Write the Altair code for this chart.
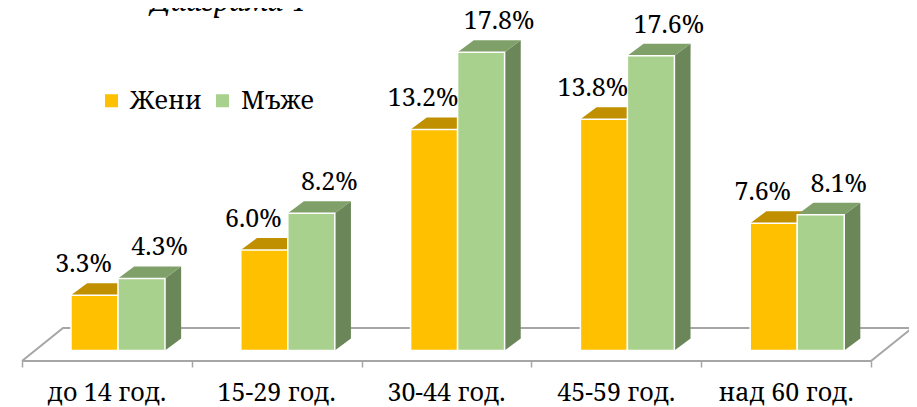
import altair as alt
import pandas as pd

# ---- data ----
categories = ["до 14 год.", "15-29 год.", "30-44 год.", "45-59 год.", "над 60 год."]
series = ["Жени", "Мъже"]
women = [3.3, 6.0, 13.2, 13.8, 7.6]
men = [4.3, 8.2, 17.8, 17.6, 8.1]
title_text = "Диаграма 4"

# ---- layout / style constants (data units of the scales) ----
X_DOMAIN = [-0.0824, 5.2238]
Y_DOMAIN = [-3.373, 20.448]
BAR_START = 0.2886
BAR_W = 0.2768
DEPTH_X = 0.095
DEPTH_Y = 0.716
FLOOR_FRONT = -0.627
FLOOR_BACK = 1.343
FLOOR_DX = 0.2415
FONT = "Noto Serif, DejaVu Serif, serif"
FS = 25
FRONT = {"Жени": "#FFC000", "Мъже": "#A9D18E"}
TOP = {"Жени": "#C09000", "Мъже": "#80A06A"}
SIDE = {"Жени": "#C09000", "Мъже": "#6B875A"}

values = {"Жени": women, "Мъже": men}

bars, faces = [], []
for i, cat in enumerate(categories):
    for j, s in enumerate(series):
        v = values[s][i]
        x0 = i + BAR_START + j * BAR_W
        x1 = x0 + BAR_W
        bid = f"{i}-{j}"
        bars.append({"id": bid, "cat": cat, "series": s, "value": v,
                     "x0": x0, "x1": x1, "xc": (x0 + x1) / 2, "base": 0.0})
        faces += [
            {"id": "t" + bid, "face": "top", "series": s, "x": x0, "lo": v, "hi": v},
            {"id": "t" + bid, "face": "top", "series": s, "x": x0 + DEPTH_X, "lo": v, "hi": v + DEPTH_Y},
            {"id": "t" + bid, "face": "top", "series": s, "x": x1, "lo": v, "hi": v + DEPTH_Y},
            {"id": "t" + bid, "face": "top", "series": s, "x": x1 + DEPTH_X, "lo": v + DEPTH_Y, "hi": v + DEPTH_Y},
        ]
        faces += [
            {"id": "s" + bid, "face": "side", "series": s, "x": x1, "lo": 0.0, "hi": v},
            {"id": "s" + bid, "face": "side", "series": s, "x": x1 + DEPTH_X, "lo": DEPTH_Y, "hi": v + DEPTH_Y},
        ]

bars_df = pd.DataFrame(bars)
faces_df = pd.DataFrame(faces)
n = len(categories)
floor_df = pd.DataFrame({
    "x": [0, FLOOR_DX, n + FLOOR_DX, n, 0],
    "y": [FLOOR_FRONT, FLOOR_BACK, FLOOR_BACK, FLOOR_FRONT, FLOOR_FRONT],
    "o": [0, 1, 2, 3, 4],
})
cat_df = pd.DataFrame({"cat": categories, "xc": [i + 0.5 for i in range(n)]})

xs = alt.Scale(domain=X_DOMAIN, nice=False, zero=False)
ys = alt.Scale(domain=Y_DOMAIN, nice=False, zero=False)
xaxis = alt.Axis(values=list(range(n + 1)), labels=False, domain=False, grid=False,
                 ticks=True, tickColor="#A6A6A6", tickWidth=1.5, tickSize=6,
                 offset=-46, title=None)


def X(f):
    return alt.X(f, scale=xs, axis=xaxis)


def Y(f):
    return alt.Y(f, scale=ys, axis=None)


floor = alt.Chart(floor_df).mark_line(color="#A6A6A6", strokeWidth=2).encode(
    x=X("x:Q"), y=Y("y:Q"), order="o:Q")

layers = [floor]
for s in series:
    for face, cmap in [("side", SIDE), ("top", TOP)]:
        lay = alt.Chart(faces_df).transform_filter(
            (alt.datum.series == s) & (alt.datum.face == face)
        ).mark_area(color=cmap[s], opacity=1).encode(
            x=X("x:Q"), y=alt.Y("lo:Q", scale=ys, axis=None, stack=None), y2="hi:Q",
            detail="id:N")
        layers.append(lay)
    front = alt.Chart(bars_df).transform_filter(alt.datum.series == s).mark_rect(
        stroke="white", strokeWidth=1.5
    ).encode(
        x=X("x0:Q"), x2="x1:Q", y=Y("value:Q"), y2="base:Q",
        color=alt.Color("series:N",
                        scale=alt.Scale(domain=series, range=[FRONT[k] for k in series]),
                        legend=alt.Legend(orient="none", legendX=91, legendY=80,
                                          direction="horizontal", title=None,
                                          symbolType="square", symbolSize=169,
                                          symbolStrokeWidth=0, labelFont=FONT,
                                          labelFontSize=FS, labelColor="black",
                                          labelOffset=6, columnPadding=8, padding=0)),
    )
    layers.append(front)

for s, ddx in zip(series, [-11, 18]):
    lab = alt.Chart(bars_df).transform_filter(alt.datum.series == s).transform_calculate(
        label="format(datum.value, '.1f') + '%'"
    ).mark_text(font=FONT, fontSize=FS, color="black", baseline="alphabetic",
                dx=ddx, dy=-23).encode(x=X("xc:Q"), y=Y("value:Q"), text="label:N")
    layers.append(lab)

cat_labels = alt.Chart(cat_df).mark_text(
    font=FONT, fontSize=FS, color="black", baseline="alphabetic"
).encode(x=X("xc:Q"), y=alt.value(393), text="cat:N")
layers.append(cat_labels)

title = alt.Chart(pd.DataFrame({"t": [title_text]})).mark_text(
    font=FONT, fontSize=27, fontStyle="italic", color="black", baseline="alphabetic"
).encode(x=alt.value(220), y=alt.value(3), text="t:N")
layers.append(title)

chart = alt.layer(*layers).properties(
    width=901, height=399, padding=0,
    autosize=alt.AutoSizeParams(type="none"),
).configure_view(strokeWidth=0)

chart.save("out.html", embed_options={"renderer": "svg", "actions": False})
